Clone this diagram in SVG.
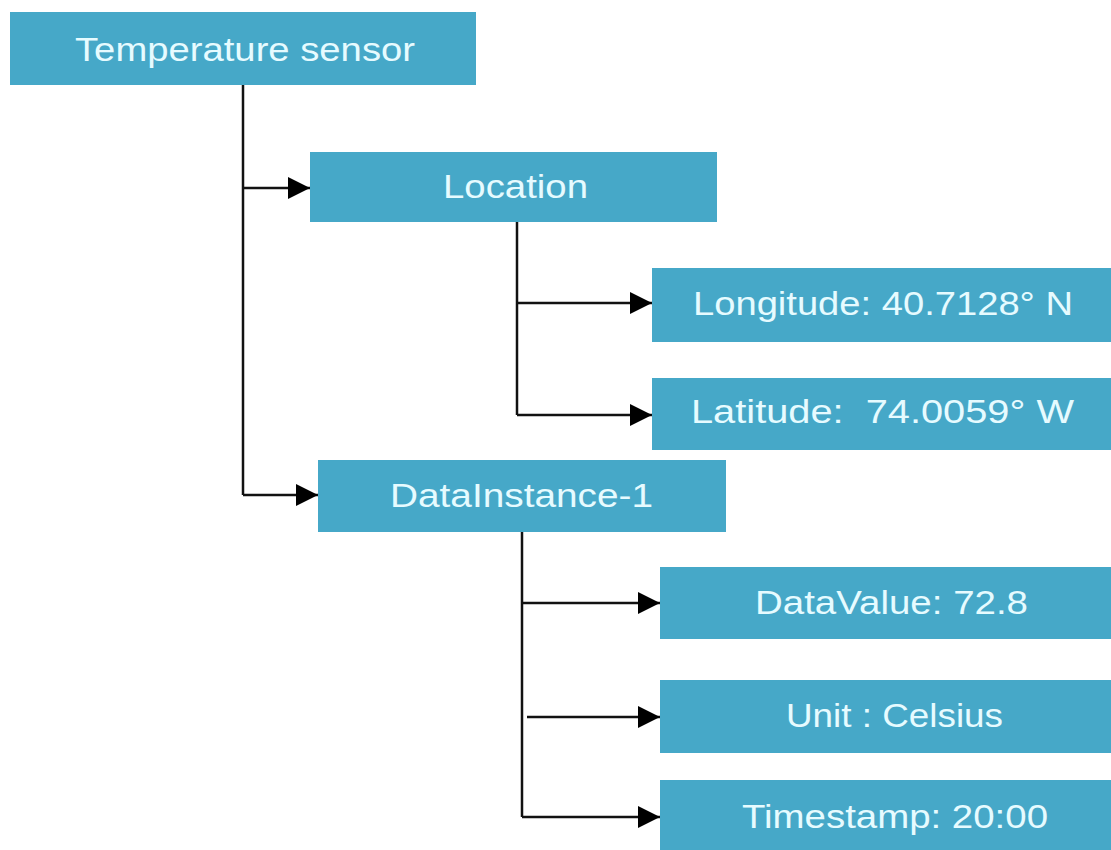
<svg xmlns="http://www.w3.org/2000/svg" width="1111" height="850" viewBox="0 0 1111 850">
<defs>
<style>
.box{fill:#46a8c8;}
.lbl{font-family:"Liberation Sans",Arial,sans-serif;font-size:34px;fill:#e6fbff;}
.conn{stroke:#111;stroke-width:2.5;fill:none;}
.arw{marker-end:url(#arr);}
</style>
<marker id="arr" viewBox="0 0 22 22" refX="22" refY="11" markerWidth="22" markerHeight="22" markerUnits="userSpaceOnUse" orient="auto">
<path d="M0,0 L22,11 L0,22 z" fill="#000"/>
</marker>
</defs>
<rect width="1111" height="850" fill="#fff"/>
<g id="connectors">
<path class="conn" d="M243,85 V495"/>
<path class="conn arw" d="M243,188 H310"/>
<path class="conn arw" d="M243,495 H318"/>
<path class="conn" d="M517,222 V415"/>
<path class="conn arw" d="M517,303 H652"/>
<path class="conn arw" d="M517,415 H652"/>
<path class="conn" d="M522,532 V817"/>
<path class="conn arw" d="M522,603 H660"/>
<path class="conn arw" d="M527,717 H660"/>
<path class="conn arw" d="M522,817 H660"/>
</g>
<g id="temperature-sensor">
<rect class="box" x="10" y="12" width="466" height="73"/>
<text class="lbl" x="75" y="61" textLength="340" lengthAdjust="spacingAndGlyphs">Temperature sensor</text>
</g>
<g id="location">
<rect class="box" x="310" y="152" width="407" height="70"/>
<text class="lbl" x="443" y="198" textLength="145" lengthAdjust="spacingAndGlyphs">Location</text>
</g>
<g id="longitude">
<rect class="box" x="652" y="268" width="459" height="74"/>
<text class="lbl" x="693" y="315" textLength="380" lengthAdjust="spacingAndGlyphs">Longitude: 40.7128° N</text>
</g>
<g id="latitude">
<rect class="box" x="652" y="378" width="459" height="72"/>
<text class="lbl" x="691" y="423" textLength="383" lengthAdjust="spacingAndGlyphs" xml:space="preserve">Latitude:  74.0059° W</text>
</g>
<g id="datainstance">
<rect class="box" x="318" y="460" width="408" height="72"/>
<text class="lbl" x="390" y="507" textLength="263" lengthAdjust="spacingAndGlyphs">DataInstance-1</text>
</g>
<g id="datavalue">
<rect class="box" x="660" y="567" width="451" height="72"/>
<text class="lbl" x="755" y="614" textLength="273" lengthAdjust="spacingAndGlyphs">DataValue: 72.8</text>
</g>
<g id="unit">
<rect class="box" x="660" y="680" width="451" height="73"/>
<text class="lbl" x="786" y="727" textLength="217" lengthAdjust="spacingAndGlyphs">Unit : Celsius</text>
</g>
<g id="timestamp">
<rect class="box" x="660" y="780" width="451" height="70"/>
<text class="lbl" x="742" y="828" textLength="306" lengthAdjust="spacingAndGlyphs">Timestamp: 20:00</text>
</g>
</svg>
